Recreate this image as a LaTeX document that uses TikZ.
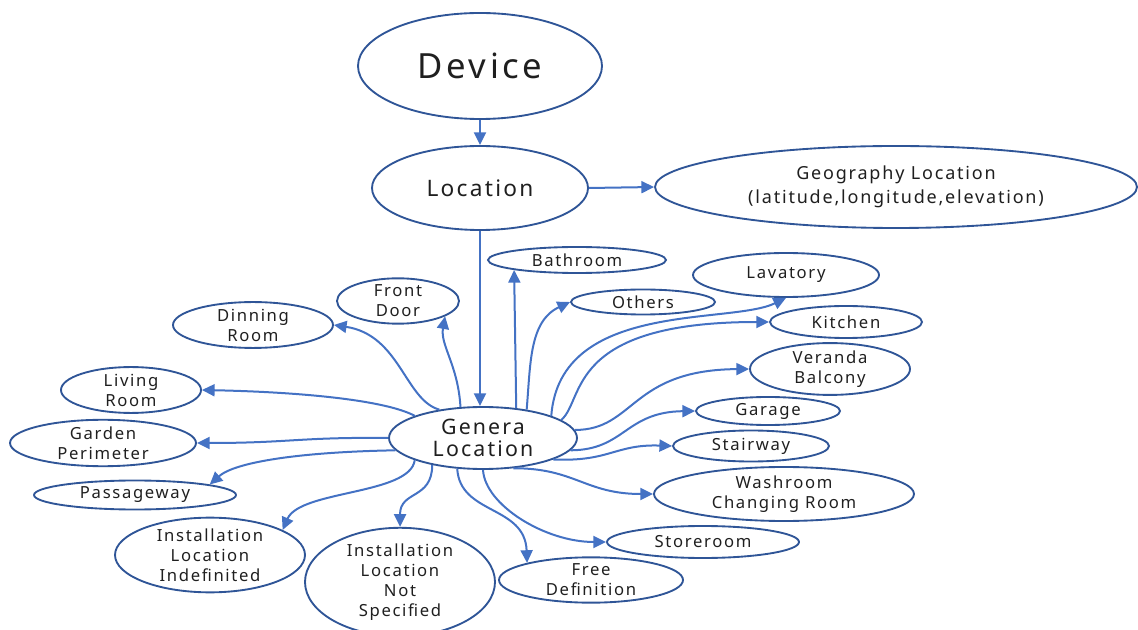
\documentclass[tikz,border=0pt]{standalone}
\usepackage{fontspec}
\usepackage{tikz}
\usetikzlibrary{shapes.geometric}
\usetikzlibrary{arrows.meta}
\newfontfamily\labelfont[LetterSpace=10]{Noto Sans}
\definecolor{ringblue}{HTML}{2F5597}
\definecolor{linkblue}{HTML}{4472C4}
\definecolor{labelgray}{HTML}{1F1F1F}

\begin{document}
\begin{tikzpicture}[x=0.75pt,y=-0.75pt,
    bubble/.style={draw=ringblue,line width=1.4pt,ellipse,inner sep=0pt,align=center,
        text=labelgray,font=\labelfont\fontsize{12.5}{15}\selectfont},
    link/.style={linkblue,line width=1.5pt,-{Triangle[length=9.5pt,width=9pt]}}]
            \useasboundingbox (0,0) rectangle (1138,630);

            \node[bubble,minimum width=183pt,minimum height=79.5pt,font=\labelfont\fontsize{26}{30}\selectfont] (dev) at (480,66){Device};
            \node[bubble,minimum width=162pt,minimum height=63pt,font=\labelfont\fontsize{17}{20}\selectfont] (loc) at (480,188){Location};
            \node[bubble,minimum width=361.5pt,minimum height=61.5pt,font=\labelfont\fontsize{13.5}{18}\selectfont] (geo) at (896,187){Geography Location\\(latitude,longitude,elevation)};
            \node[bubble,minimum width=141pt,minimum height=46.5pt,font=\labelfont\fontsize{16}{17}\selectfont] (gen) at (483,438){Genera\\Location};

            \node[bubble,minimum width=133.5pt,minimum height=19.5pt] (bath) at (577,260){Bathroom};
            \node[bubble,minimum width=108pt,minimum height=18.75pt] (oth) at (643,302){Others};
            \node[bubble,minimum width=91.5pt,minimum height=31.5pt] (front) at (398,301){Front\\Door};
            \node[bubble,minimum width=139.5pt,minimum height=33pt] (lav) at (786,275){Lavatory};
            \node[bubble,minimum width=114pt,minimum height=24pt] (kit) at (846,322){Kitchen};
            \node[bubble,minimum width=120pt,minimum height=33pt] (ver) at (830,369){Veranda\\Balcony};
            \node[bubble,minimum width=108pt,minimum height=21pt] (gar) at (768,411){Garage};
            \node[bubble,minimum width=117pt,minimum height=23.25pt] (stair) at (751,446){Stairway};
            \node[bubble,minimum width=195pt,minimum height=40.5pt] (wash) at (784,494){Washroom\\Changing Room};
            \node[bubble,minimum width=144pt,minimum height=24pt] (store) at (703,542){Storeroom};
            \node[bubble,minimum width=138pt,minimum height=33pt] (free) at (591,580){Free\\Definition};
            \node[bubble,minimum width=142.5pt,minimum height=70.5pt] (notspec) at (400,582){Installation\\Location\\Not\\Specified};
            \node[bubble,minimum width=142.5pt,minimum height=51pt] (indef) at (210,555){Installation\\Location\\Indefinited};
            \node[bubble,minimum width=151.5pt,minimum height=21.75pt] (pass) at (135,495){Passageway};
            \node[bubble,minimum width=139.5pt,minimum height=32.25pt] (garden) at (103,443){Garden\\Perimeter};
            \node[bubble,minimum width=105pt,minimum height=33.75pt] (living) at (131,390){Living\\Room};
            \node[bubble,minimum width=120pt,minimum height=33pt] (dining) at (253,325){Dinning\\Room};

            \draw[link](dev) -- (loc);
            \draw[link](loc.east) -- (geo.west);
            \draw[link](loc.south) -- (loc.south |- gen.north);

            \draw[link](gen.42) -- (bath.-171);
            \draw[link](gen.33) to[out=85,in=205] (oth.west);
            \draw[link](gen.18) .. controls (560,300) and (730,325) .. (lav.south);
            \draw[link](gen.13) .. controls (585,400) and (565,322) .. (kit.west);
            \draw[link](gen.5) .. controls (635,430) and (630,370) .. (ver.west);
            \draw[link](gen.-8) .. controls (625,450) and (625,412) .. (gar.west);
            \draw[link](gen.-17) .. controls (610,462) and (615,444) .. (stair.west);
            \draw[link](gen.-45) .. controls (575,468) and (585,494) .. (wash.west);
            \draw[link](gen.south) .. controls (485,505) and (545,542) .. (store.west);
            \draw[link](gen.-130) .. controls (460,515) and (525,505) .. (free.165);
            \draw[link](gen.-152) .. controls (432,500) and (400,490) .. (notspec.north);
            \draw[link](gen.-162) .. controls (410,495) and (300,490) .. (indef.19);
            \draw[link](gen.-172) .. controls (300,452) and (235,462) .. (pass.8);
            \draw[link](gen.west) .. controls (300,437) and (290,443) .. (garden.east);
            \draw[link](gen.162) .. controls (385,400) and (300,392) .. (living.east);
            \draw[link](gen.147) .. controls (405,400) and (400,335) .. (dining.east);
            \draw[link](gen.126) .. controls (458,365) and (440,345) .. (front.-18);
        \end{tikzpicture}
\end{document}
